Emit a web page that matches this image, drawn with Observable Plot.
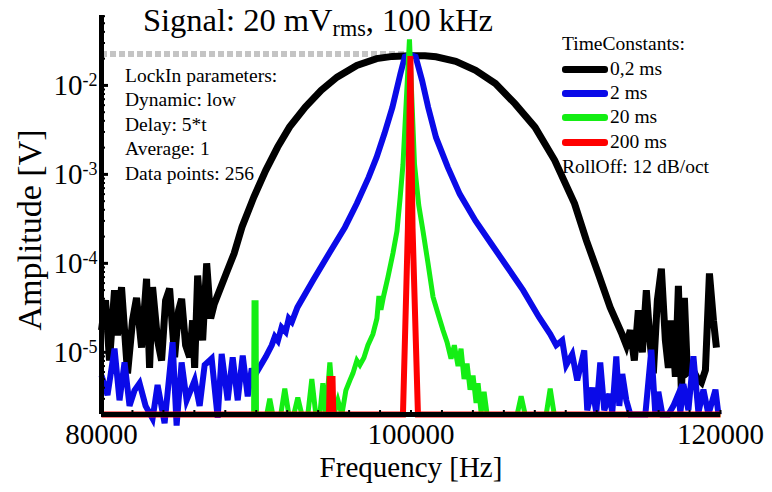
<!DOCTYPE html>
<html><head><meta charset="utf-8">
<script src="https://cdn.jsdelivr.net/npm/d3@7"></script>
<script src="https://cdn.jsdelivr.net/npm/@observablehq/plot@0.6"></script>
<style>
body{margin:0;background:#fff;}
#wrap{position:relative;width:772px;height:492px;font-family:"Liberation Serif","Times New Roman",serif;color:#000;overflow:hidden;}
.ov{position:absolute;white-space:nowrap;line-height:1;}
.sw{position:absolute;height:7px;width:46px;border-radius:3px;}
</style></head><body>
<div id="wrap"></div>
<script>
// ---- axes ----
const xDomain = [80000, 120000];
const yDomain = [2.0e-6, 0.0611];
const xMajorTicks = [80000, 100000, 120000];
const xMinorTicks = [80000,82000,84000,86000,88000,90000,92000,94000,96000,98000,100000,102000,104000,106000,108000,110000,112000,114000,116000,118000,120000];
const yMajorTicks = [1e-5, 1e-4, 1e-3, 1e-2];
const yMinorTicks = [3e-6,4e-6,5e-6,6e-6,7e-6,8e-6,9e-6,2e-5,3e-5,4e-5,5e-5,6e-5,7e-5,8e-5,9e-5,2e-4,3e-4,4e-4,5e-4,6e-4,7e-4,8e-4,9e-4,2e-3,3e-3,4e-3,5e-3,6e-3,7e-3,8e-3,9e-3,2e-2,3e-2,4e-2,5e-2,6e-2];

// ---- signal reference (grey dashed) ----
const signalLevel = 0.0225;
const signalFreq = [80000, 99700];

// ---- series: TimeConstant 0,2 ms (black) ----
const blackFreq = [80000,80259,80518,80841,81036,81294,81683,82006,82265,82589,82912,83107,83301,83624,83883,84142,84401,84725,84983,85178,85436,85695,85890,86019,86213,86537,86796,87054,87288,88058,88569,89080,89850,90614,91383,92148,93170,94195,95222,96498,97779,98800,99934,100900,101617,102892,104173,105455,106729,108011,109286,110568,111338,112101,112871,113635,113914,114173,114432,114690,114949,115208,115467,115661,115920,116179,116438,116632,116761,116955,117085,117279,117473,117667,117861,118185,118508,118767,119026,119285,119544,119738];
const blackAmp = [1.77e-5,3.84e-5,8.1e-6,5.0e-5,1.55e-5,5.4e-5,5.8e-6,2.29e-5,4.1e-5,1.13e-5,6.7e-5,6.7e-6,5.4e-5,1.36e-5,8.1e-6,3.84e-5,5.2e-5,8.8e-6,2.96e-5,4.0e-5,1.2e-5,8.8e-6,2.29e-5,6.7e-6,7.3e-5,1.36e-5,1.0e-4,2.4e-5,3.5e-5,7.7e-5,1.29e-4,2.57e-4,5.6e-4,1.11e-3,2.03e-3,3.4e-3,5.7e-3,8.8e-3,1.24e-2,1.68e-2,2.0e-2,2.12e-2,2.16e-2,2.15e-2,2.1e-2,1.87e-2,1.48e-2,1.05e-2,6.2e-3,3.4e-3,1.44e-3,4.7e-4,1.8e-4,7.7e-5,3.2e-5,1.6e-5,1.2e-5,1.77e-5,8.1e-6,2.96e-5,1.0e-5,5.0e-5,1.2e-5,5.8e-6,3.84e-5,8.7e-5,1.36e-5,6.7e-6,2.29e-5,1.2e-5,5.3e-6,5.6e-5,3.4e-6,4.1e-5,5.9e-6,6.5e-6,5.1e-6,4.6e-6,6.3e-6,7.7e-5,2.29e-5,1.13e-5];

// ---- series: 2 ms (blue) ----
const blueFreq = [80000,80388,80841,81165,81489,81812,82136,82459,82848,83301,83624,84077,84595,84854,85178,85501,86019,86343,86666,87119,87508,87766,88155,88478,88802,89126,89449,89708,89850,90614,91000,91200,91400,91637,91900,92100,92300,92659,93682,94705,95733,96498,97268,97779,98290,98801,99313,99600,99950,100300,100716,101106,101617,102381,103151,104173,105196,106219,107241,108264,108995,109383,109771,110030,110418,110742,111195,111389,111713,111972,112230,112489,112813,113007,113266,113460,113654,113914,114173,115143,115531,115790,115984,116243,116632,116955,117279,117408,117602,117926,118250,118573,118897,119220,119479,119673,119867];
const blueAmp = [5.5e-6,3.3e-6,1.1e-5,2.89e-6,7.7e-6,2.5e-6,3.74e-6,4.5e-6,2.5e-6,1.8e-6,4.3e-6,1.6e-6,1.3e-5,1.5e-6,7.7e-6,2.89e-6,4.84e-6,2.5e-6,7.2e-6,8.5e-6,1.84e-6,9.6e-6,2.89e-6,8.8e-6,2.89e-6,9.2e-6,3.2e-6,6.6e-6,5.3e-6,8.9e-6,1.2e-5,1.5e-5,1.35e-5,1.9e-5,1.7e-5,2.4e-5,2.2e-5,3.2e-5,6.5e-5,1.29e-4,2.55e-4,4.7e-4,9.3e-4,1.56e-3,2.9e-3,5.7e-3,1.35e-2,2.1e-2,2.2e-2,2.1e-2,1.14e-2,5.7e-3,2.6e-3,1.2e-3,6.0e-4,3.0e-4,1.65e-4,9.1e-5,5.0e-5,2.5e-5,1.6e-5,1.2e-5,1.36e-5,7.2e-6,9.5e-6,4.84e-6,1.05e-5,2.23e-6,4.0e-6,2.1e-6,7.7e-6,2.23e-6,3.4e-6,2.1e-6,9.0e-6,2.5e-6,5.7e-6,2.89e-6,2.0e-6,2.0e-6,1.07e-5,2.0e-6,3.6e-6,2.0e-6,2.0e-6,2.5e-6,3.4e-6,2.1e-6,4.4e-6,2.23e-6,9.0e-6,2.1e-6,3.8e-6,2.0e-6,2.89e-6,3.8e-6,2.0e-6];

// ---- series: 20 ms (green) ----
const greenFreq = [80000,89830,89857,89988,90015,90679,90873,91067,91585,91844,92103,92427,92685,92944,93332,93591,93850,94109,94303,94497,94756,95015,95274,95533,95792,96050,96245,96503,96698,96957,97216,97539,97798,97927,98057,98218,98510,98834,99092,99300,99483,99900,100227,100500,100776,101100,101423,101750,102070,102330,102587,102800,103040,103234,103429,103623,103817,104011,104205,104335,104529,104723,104917,106859,107118,107377,108736,108995,109254,120000];
const greenAmp = [2.0e-6,2.0e-6,3.6e-5,3.6e-5,2.0e-6,2.0e-6,3.0e-6,2.0e-6,2.0e-6,3.9e-6,2.0e-6,2.0e-6,3.1e-6,2.0e-6,2.0e-6,5.0e-6,2.0e-6,2.0e-6,4.5e-6,2.0e-6,7.7e-6,2.0e-6,2.89e-6,2.0e-6,3.74e-6,4.84e-6,5.8e-6,8.1e-6,7.2e-6,8.7e-6,1.2e-5,1.6e-5,2.4e-5,4.3e-5,3.0e-5,4.2e-5,7.0e-5,1.3e-4,2.3e-4,5.5e-4,1.3e-3,3.3e-2,1.3e-3,4.5e-4,2.3e-4,1.0e-4,4.2e-5,2.7e-5,1.77e-5,1.3e-5,8.5e-6,1.2e-5,7.0e-6,1.1e-5,5.0e-6,7.5e-6,3.8e-6,5.5e-6,2.7e-6,4.5e-6,2.1e-6,3.6e-6,2.0e-6,2.0e-6,3.2e-6,2.0e-6,2.0e-6,3.9e-6,2.0e-6,2.0e-6];

// ---- series: 200 ms (red) ----
const redFreq = [80000,94700,94750,94930,94980,99480,99800,99960,100100,100450,120000];
const redAmp = [2.0e-6,2.0e-6,5.0e-6,5.0e-6,2.0e-6,2.0e-6,2.5e-4,2.14e-2,2.5e-4,2.0e-6,2.0e-6];

// ---- legend / annotation text ----
const seriesNames = ["0,2 ms", "2 ms", "20 ms", "200 ms"];
const seriesColors = ["#000000", "#0a0ae8", "#14ee14", "#ff0000"];
const paramLines = ["LockIn parameters:", "Dynamic: low", "Delay: 5*t", "Average: 1", "Data points: 256"];

const toRows = (F, A) => F.map((f, i) => ({f, a: A[i]}));
const series = [toRows(blackFreq, blackAmp), toRows(blueFreq, blueAmp), toRows(greenFreq, greenAmp), toRows(redFreq, redAmp)];
const widths = [7, 6, 5, 6];

const plot = Plot.plot({
  width: 772, height: 492,
  marginLeft: 101, marginRight: 52, marginTop: 15, marginBottom: 78,
  style: {fontFamily: '"Liberation Serif","Times New Roman",serif', background: "white", color: "black", overflow: "visible"},
  x: {domain: xDomain},
  y: {type: "log", domain: yDomain},
  marks: [
    Plot.ruleY([signalLevel], {x1: signalFreq[0], x2: signalFreq[1], stroke: "#c4c4c4", strokeWidth: 6, strokeDasharray: "6 3"}),
    ...series.map((s, i) => Plot.line(s, {x: "f", y: "a", stroke: seriesColors[i], strokeWidth: widths[i], strokeLinejoin: "miter", strokeLinecap: "butt", strokeMiterlimit: 4})),
    Plot.ruleX([xDomain[0]], {stroke: "black", strokeWidth: 5}),
    Plot.ruleY([yDomain[0]], {stroke: "black", strokeWidth: 5}),
    Plot.axisY({ticks: yMinorTicks, tickSize: -4, strokeWidth: 2, tickFormat: () => "", label: null}),
    Plot.axisY({ticks: yMajorTicks, tickSize: -7, strokeWidth: 3, tickPadding: 11, fontSize: 29, tickFormat: d => "10|" + Math.round(Math.log10(d)), label: null}),
    Plot.axisX({ticks: xMinorTicks, tickSize: -4, strokeWidth: 2, tickFormat: () => "", label: null}),
    Plot.axisX({ticks: xMajorTicks, tickSize: 0, tickPadding: 9, fontSize: 29, tickFormat: d => String(d), label: null}),
    Plot.text(["Frequency [Hz]"], {text: d => d, frameAnchor: "bottom", dy: 62, fontSize: 29})
  ]
});

// superscripts for the log tick labels
plot.querySelectorAll('g[aria-label="y-axis tick label"] text').forEach(t => {
  const [base, exp] = t.textContent.split("|");
  t.textContent = "";
  t.appendChild(document.createTextNode(base));
  const sup = document.createElementNS("http://www.w3.org/2000/svg", "tspan");
  sup.setAttribute("dy", "-0.5em");
  sup.setAttribute("font-size", "0.62em");
  sup.textContent = exp;
  t.appendChild(sup);
});

const wrap = document.getElementById("wrap");
wrap.appendChild(plot);
plot.style.position = "absolute"; plot.style.left = "0"; plot.style.top = "0";

function addText(html, left, baseline, size) {
  const d = document.createElement("div");
  d.className = "ov";
  d.style.left = left + "px";
  d.style.top = (baseline - 0.8375 * size) + "px";
  d.style.fontSize = size + "px";
  d.innerHTML = html;
  wrap.appendChild(d);
  return d;
}
// y axis title (rotated)
const yTitle = document.createElement("div");
yTitle.className = "ov";
yTitle.style.fontSize = "34px";
yTitle.style.left = "30px";
yTitle.style.top = "230px";
yTitle.style.transform = "translate(-50%,-50%) rotate(-90deg)";
yTitle.textContent = "Amplitude [V]";
wrap.appendChild(yTitle);
// title
addText('Signal: 20 mV<span style="font-size:0.68em;position:relative;top:0.22em">rms</span>, 100 kHz', 143, 31.5, 32.5);
// parameter block
const paramBase = [82.7, 106.5, 131, 155.5, 180];
paramLines.forEach((s, i) => addText(s, 125, paramBase[i], 19.5));
// legend
addText("TimeConstants:", 562, 50, 19.5);
const legBase = [75, 99, 123.5, 148];
seriesNames.forEach((s, i) => {
  addText(s, 610, legBase[i], 19.5);
  const sw = document.createElement("div");
  sw.className = "sw";
  sw.style.left = "562px";
  sw.style.top = (legBase[i] - 9.5) + "px";
  sw.style.background = seriesColors[i];
  wrap.appendChild(sw);
});
addText("RollOff: 12 dB/oct", 562, 173, 19.5);
</script>
</body></html>
